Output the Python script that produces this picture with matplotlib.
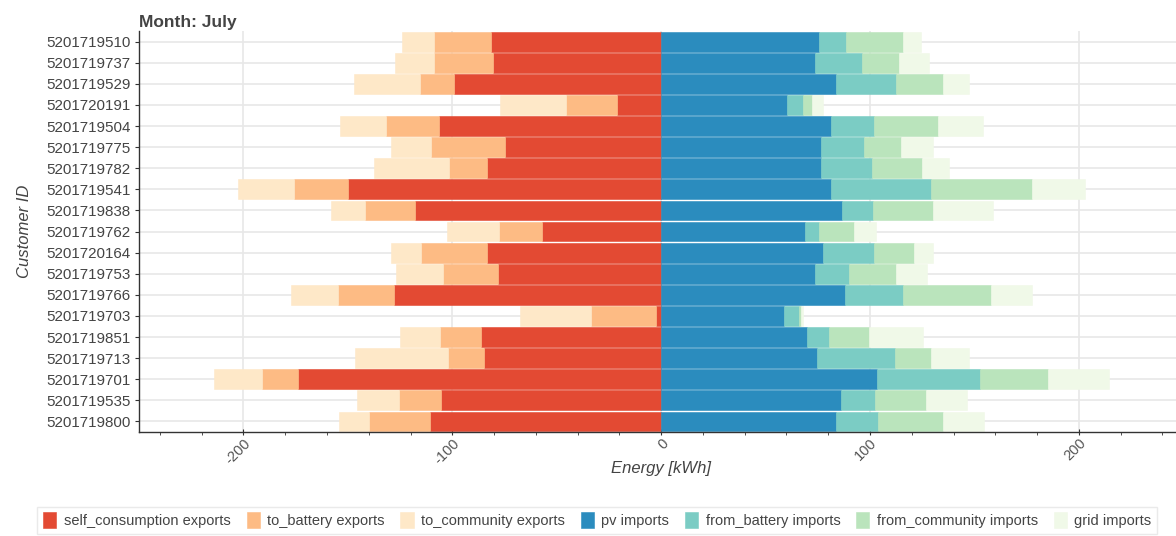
import numpy as np
import matplotlib
matplotlib.use("Agg")
import matplotlib.pyplot as plt
from matplotlib.ticker import MultipleLocator

plt.rcParams['font.family'] = ['Liberation Sans', 'DejaVu Sans']
plt.rcParams['axes.unicode_minus'] = False

customers = ['5201719510', '5201719737', '5201719529', '5201720191', '5201719504',
             '5201719775', '5201719782', '5201719541', '5201719838', '5201719762',
             '5201720164', '5201719753', '5201719766', '5201719703', '5201719851',
             '5201719713', '5201719701', '5201719535', '5201719800']

# exports (drawn to the left)
self_consumption = [81.3, 80.4, 99.0, 21.2, 106.4, 75.0, 83.3, 149.8, 117.7, 56.9,
                    83.4, 78.0, 127.9, 2.4, 86.4, 84.7, 173.7, 105.3, 110.9]
to_battery = [27.6, 28.2, 16.3, 24.3, 25.5, 35.1, 18.5, 26.2, 23.9, 20.7,
              31.4, 26.3, 26.6, 31.0, 19.6, 17.2, 17.2, 20.4, 29.2]
to_community = [15.0, 18.8, 31.6, 31.6, 21.7, 19.3, 35.6, 26.5, 16.7, 24.7,
                14.7, 22.6, 22.5, 34.1, 18.8, 44.8, 23.3, 19.9, 14.0]

# imports (drawn to the right)
pv = [75.6, 73.8, 83.9, 60.4, 81.3, 76.6, 76.6, 81.2, 86.8, 68.9,
      77.4, 73.7, 88.0, 58.9, 69.9, 74.6, 103.3, 86.0, 83.9]
from_battery = [12.9, 22.3, 28.6, 7.5, 20.6, 20.7, 24.4, 47.8, 14.7, 6.8,
                24.6, 16.1, 27.8, 7.2, 10.5, 37.2, 49.6, 16.6, 20.0]
from_community = [27.4, 17.7, 22.5, 4.3, 30.8, 17.6, 23.8, 48.5, 28.9, 16.6,
                  19.1, 22.6, 42.1, 0.8, 19.1, 17.2, 32.5, 24.3, 31.2]
grid = [8.5, 14.4, 12.4, 5.3, 21.4, 15.2, 13.2, 25.4, 28.4, 10.7,
        9.1, 15.0, 19.6, 1.0, 25.8, 18.3, 29.2, 19.5, 19.5]

neg_series = [('self_consumption exports', self_consumption, '#e34a33'),
              ('to_battery exports', to_battery, '#fdbb84'),
              ('to_community exports', to_community, '#fee8c8')]
pos_series = [('pv imports', pv, '#2b8cbe'),
              ('from_battery imports', from_battery, '#7bccc4'),
              ('from_community imports', from_community, '#bae4bc'),
              ('grid imports', grid, '#f0f9e8')]

fig = plt.figure(figsize=(11.76, 5.36), dpi=100)
ax = fig.add_axes([0.1182, 0.194, 0.888, 0.748])

y = np.arange(len(customers))
h = 0.94

left = np.zeros(len(customers))
for name, vals, col in neg_series:
    v = np.array(vals)
    ax.barh(y, -v, left=left, height=h, color=col, label=name,
            edgecolor=col, linewidth=0.4, zorder=2)
    left -= v

left = np.zeros(len(customers))
for name, vals, col in pos_series:
    v = np.array(vals)
    ax.barh(y, v, left=left, height=h, color=col, label=name,
            edgecolor=col, linewidth=0.4, zorder=2)
    left += v

ax.set_xlim(-250, 250)
ax.set_ylim(len(customers) - 0.5, -0.5)
ax.set_yticks(y)
ax.set_yticklabels(customers)
ax.xaxis.set_major_locator(MultipleLocator(100))
ax.xaxis.set_minor_locator(MultipleLocator(20))

ax.grid(True, which='major', color='#e8e8e8', linewidth=1.2, zorder=0)
ax.set_axisbelow(True)
for s in ['top', 'right']:
    ax.spines[s].set_visible(False)
for s in ['left', 'bottom']:
    ax.spines[s].set_color('#333333')
    ax.spines[s].set_linewidth(1.0)

ax.tick_params(axis='y', labelsize=10.9, labelcolor='#444444', length=3, color='#333333',
               pad=3)
ax.tick_params(axis='x', which='major', labelsize=10.5, labelcolor='#555555', length=4,
               color='#333333', pad=1, direction='inout')
ax.tick_params(axis='x', which='minor', length=2.5, color='#333333')
for lab in ax.get_xticklabels():
    lab.set_rotation(45)
    lab.set_ha('right')
    lab.set_va('top')
    lab.set_rotation_mode('anchor')

ax.set_xlabel('Energy [kWh]', fontsize=12, style='italic', color='#444444')
ax.xaxis.set_label_coords(0.5, -0.072)
ax.set_ylabel('Customer ID', fontsize=12, style='italic', color='#444444', labelpad=10)
ax.set_title('Month: July', loc='left', fontsize=12.5, fontweight='bold', color='#444444',
             pad=3)

handles, labels = ax.get_legend_handles_labels()
leg = fig.legend(handles, labels, loc='lower center', bbox_to_anchor=(0.508, -0.01),
                 ncol=7, fontsize=10.5, frameon=True, fancybox=False,
                 handlelength=0.9, handleheight=1.3, handletextpad=0.5,
                 columnspacing=1.1, borderpad=0.4)
leg.get_frame().set_edgecolor('#e5e5e5')
for t in leg.get_texts():
    t.set_color('#444444')

fig.savefig('out.png', dpi=100)
